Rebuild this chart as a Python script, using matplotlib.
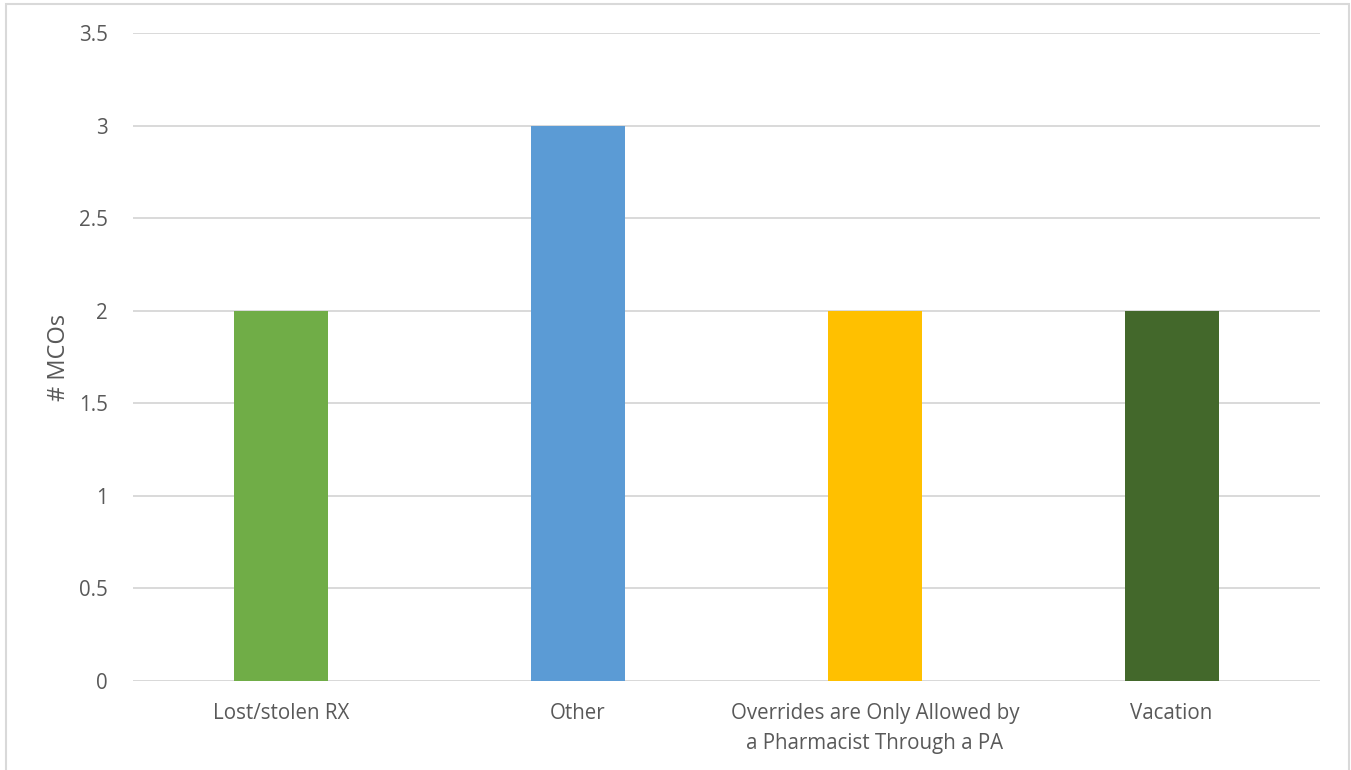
import matplotlib.pyplot as plt
from matplotlib.patches import Rectangle

# categories and counts
categories = ["Lost/stolen RX", "Other",
              "Overrides are Only Allowed by\na Pharmacist Through a PA", "Vacation"]
counts = [2, 3, 2, 2]
bar_colors = ["#70AD47", "#5B9BD5", "#FFC000", "#43682B"]
y_ticks = [0, 0.5, 1, 1.5, 2, 2.5, 3, 3.5]
y_tick_labels = ["0", "0.5", "1", "1.5", "2", "2.5", "3", "3.5"]

plt.rcParams['font.family'] = ['Open Sans', 'DejaVu Sans']

fig = plt.figure(figsize=(13.51, 7.70), dpi=100)
ax = fig.add_axes([0.0984, 0.1156, 0.8786, 0.8414])

x = list(range(len(categories)))
ax.bar(x, counts, width=0.317, color=bar_colors, zorder=3)

ax.set_xlim(-0.5, len(categories) - 0.5)
ax.set_ylim(0, 3.5)
ax.set_yticks(y_ticks)
ax.set_yticklabels(y_tick_labels)
ax.set_xticks(x)
ax.set_xticklabels(categories, ha="center", linespacing=1.6)

ax.grid(axis="y", color="#D9D9D9", linewidth=1.4, zorder=0)
for s in ["top", "right", "left", "bottom"]:
    ax.spines[s].set_visible(False)
ax.axhline(0, color="#D9D9D9", linewidth=1.4, zorder=1)
ax.tick_params(axis="both", length=0, labelsize=14.8, labelcolor="#595959")
ax.tick_params(axis="y", pad=18)
ax.tick_params(axis="x", pad=15.5)
ax.set_ylabel("# MCOs", fontsize=17, color="#595959", labelpad=6)

# outer chart frame
fig.patches.append(Rectangle((6 / 1351, -0.05), 1343 / 1351, 1.05 - 4 / 770,
                             transform=fig.transFigure, fill=False,
                             edgecolor="#D9D9D9", linewidth=1.5))

fig.savefig("out.png", dpi=100, facecolor="white")
